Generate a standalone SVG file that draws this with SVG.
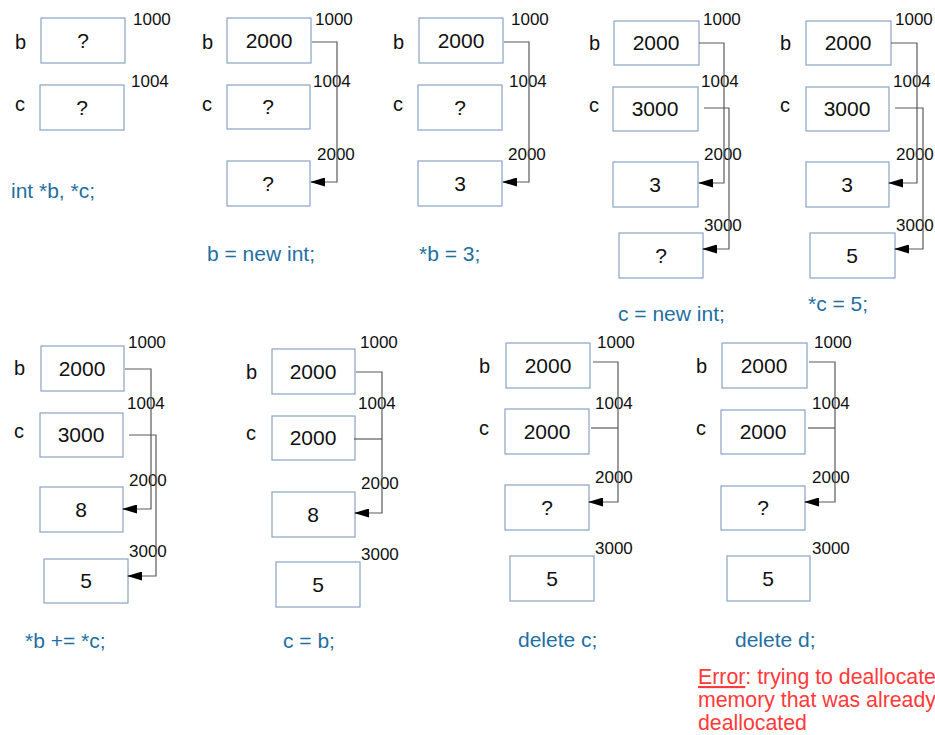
<svg xmlns="http://www.w3.org/2000/svg" width="935" height="735" viewBox="0 0 935 735">
<style>
.box{fill:#fff;stroke:#94aac8;stroke-width:1.3}
text{font-family:"Liberation Sans",Arial,sans-serif;fill:#111}
.val{font-size:21px;text-anchor:middle}
.addr{font-size:17px}
.var{font-size:20px}
.cap{font-size:21px;fill:#1f6fa3}
.err{font-size:21.3px;fill:#ff3a3a}
.conn{fill:none;stroke:#5a5a5a;stroke-width:1.2}
</style>
<defs>
<marker id="ah" markerUnits="userSpaceOnUse" markerWidth="15" markerHeight="9" refX="14" refY="4.5" orient="auto">
<path d="M0,0 L15,4.5 L0,9 z" fill="#000"/>
</marker>
</defs>
<rect width="935" height="735" fill="#fff"/>

<!-- Panel 1 -->
<g id="p1">
<text class="var" x="15" y="49">b</text><text class="var" x="15" y="111">c</text>
<g id="p1-b"><rect class="box" x="41" y="18" width="84" height="45"/><text class="val" x="83" y="48">?</text></g>
<g id="p1-c"><rect class="box" x="40" y="85" width="84" height="45"/><text class="val" x="82" y="115">?</text></g>
<text class="addr" x="133" y="25">1000</text><text class="addr" x="131" y="87">1004</text>
<text class="cap" x="11" y="198">int *b, *c;</text>
</g>

<!-- Panel 2 -->
<g id="p2">
<text class="var" x="202" y="49">b</text><text class="var" x="202" y="111">c</text>
<g id="p2-b"><rect class="box" x="227" y="18" width="84" height="45"/><text class="val" x="269" y="48">2000</text></g>
<g id="p2-c"><rect class="box" x="227" y="85" width="83" height="44"/><text class="val" x="268" y="114">?</text></g>
<g id="p2-m"><rect class="box" x="227" y="161" width="83" height="45"/><text class="val" x="268" y="191">?</text></g>
<text class="addr" x="315" y="25">1000</text><text class="addr" x="313" y="87">1004</text><text class="addr" x="317" y="160">2000</text>
<text class="cap" x="207" y="261">b = new int;</text>
</g>

<!-- Panel 3 -->
<g id="p3">
<text class="var" x="393" y="49">b</text><text class="var" x="393" y="111">c</text>
<g id="p3-b"><rect class="box" x="419" y="18" width="84" height="45"/><text class="val" x="461" y="48">2000</text></g>
<g id="p3-c"><rect class="box" x="418" y="85" width="84" height="45"/><text class="val" x="460" y="115">?</text></g>
<g id="p3-m"><rect class="box" x="418" y="161" width="84" height="45"/><text class="val" x="460" y="191">3</text></g>
<text class="addr" x="511" y="25">1000</text><text class="addr" x="509" y="87">1004</text><text class="addr" x="508" y="160">2000</text>
<text class="cap" x="419" y="261">*b = 3;</text>
</g>

<!-- Panel 4 -->
<g id="p4">
<text class="var" x="589" y="50">b</text><text class="var" x="589" y="112">c</text>
<g id="p4-b"><rect class="box" x="614" y="21" width="85" height="44"/><text class="val" x="656" y="50">2000</text></g>
<g id="p4-c"><rect class="box" x="613" y="87" width="85" height="44"/><text class="val" x="655" y="116">3000</text></g>
<g id="p4-m1"><rect class="box" x="613" y="162" width="85" height="45"/><text class="val" x="655" y="192">3</text></g>
<g id="p4-m2"><rect class="box" x="619" y="233" width="84" height="45"/><text class="val" x="661" y="263">?</text></g>
<text class="addr" x="703" y="25">1000</text><text class="addr" x="701" y="87">1004</text><text class="addr" x="704" y="160">2000</text><text class="addr" x="704" y="231">3000</text>
<text class="cap" x="618" y="321">c = new int;</text>
</g>

<!-- Panel 5 -->
<g id="p5">
<text class="var" x="780" y="50">b</text><text class="var" x="780" y="112">c</text>
<g id="p5-b"><rect class="box" x="806" y="21" width="85" height="44"/><text class="val" x="848" y="50">2000</text></g>
<g id="p5-c"><rect class="box" x="806" y="87" width="83" height="44"/><text class="val" x="847" y="116">3000</text></g>
<g id="p5-m1"><rect class="box" x="806" y="162" width="83" height="45"/><text class="val" x="847" y="192">3</text></g>
<g id="p5-m2"><rect class="box" x="810" y="233" width="85" height="45"/><text class="val" x="852" y="263">5</text></g>
<text class="addr" x="895" y="25">1000</text><text class="addr" x="893" y="87">1004</text><text class="addr" x="896" y="160">2000</text><text class="addr" x="896" y="231">3000</text>
<text class="cap" x="808" y="311">*c = 5;</text>
</g>

<!-- Panel 6 -->
<g id="p6">
<text class="var" x="14" y="375">b</text><text class="var" x="14" y="438">c</text>
<g id="p6-b"><rect class="box" x="41" y="346" width="83" height="45"/><text class="val" x="82" y="376">2000</text></g>
<g id="p6-c"><rect class="box" x="40" y="413" width="83" height="44"/><text class="val" x="81" y="442">3000</text></g>
<g id="p6-m1"><rect class="box" x="40" y="487" width="83" height="45"/><text class="val" x="81" y="517">8</text></g>
<g id="p6-m2"><rect class="box" x="44" y="559" width="84" height="44"/><text class="val" x="86" y="588">5</text></g>
<text class="addr" x="128" y="348">1000</text><text class="addr" x="127" y="409">1004</text><text class="addr" x="129" y="486">2000</text><text class="addr" x="129" y="557">3000</text>
<text class="cap" x="25" y="648">*b += *c;</text>
</g>

<!-- Panel 7 -->
<g id="p7">
<text class="var" x="246" y="379">b</text><text class="var" x="246" y="440">c</text>
<g id="p7-b"><rect class="box" x="272" y="349" width="83" height="45"/><text class="val" x="313" y="379">2000</text></g>
<g id="p7-c"><rect class="box" x="272" y="416" width="83" height="44"/><text class="val" x="313" y="445">2000</text></g>
<g id="p7-m1"><rect class="box" x="272" y="492" width="83" height="45"/><text class="val" x="313" y="522">8</text></g>
<g id="p7-m2"><rect class="box" x="276" y="562" width="84" height="45"/><text class="val" x="318" y="592">5</text></g>
<text class="addr" x="360" y="348">1000</text><text class="addr" x="358" y="409">1004</text><text class="addr" x="361" y="489">2000</text><text class="addr" x="361" y="560">3000</text>
<text class="cap" x="283" y="648">c = b;</text>
</g>

<!-- Panel 8 -->
<g id="p8">
<text class="var" x="479" y="373">b</text><text class="var" x="479" y="435">c</text>
<g id="p8-b"><rect class="box" x="506" y="343" width="84" height="45"/><text class="val" x="548" y="373">2000</text></g>
<g id="p8-c"><rect class="box" x="505" y="409" width="84" height="45"/><text class="val" x="547" y="439">2000</text></g>
<g id="p8-m1"><rect class="box" x="505" y="485" width="84" height="45"/><text class="val" x="547" y="515">?</text></g>
<g id="p8-m2"><rect class="box" x="510" y="556" width="84" height="45"/><text class="val" x="552" y="586">5</text></g>
<text class="addr" x="597" y="348">1000</text><text class="addr" x="595" y="409">1004</text><text class="addr" x="595" y="483">2000</text><text class="addr" x="595" y="554">3000</text>
<text class="cap" x="518" y="647">delete c;</text>
</g>

<!-- Panel 9 -->
<g id="p9">
<text class="var" x="696" y="373">b</text><text class="var" x="696" y="435">c</text>
<g id="p9-b"><rect class="box" x="722" y="343" width="85" height="45"/><text class="val" x="764" y="373">2000</text></g>
<g id="p9-c"><rect class="box" x="721" y="410" width="84" height="44"/><text class="val" x="763" y="439">2000</text></g>
<g id="p9-m1"><rect class="box" x="721" y="486" width="84" height="44"/><text class="val" x="763" y="515">?</text></g>
<g id="p9-m2"><rect class="box" x="727" y="556" width="83" height="45"/><text class="val" x="768" y="586">5</text></g>
<text class="addr" x="814" y="348">1000</text><text class="addr" x="812" y="409">1004</text><text class="addr" x="812" y="483">2000</text><text class="addr" x="812" y="554">3000</text>
<text class="cap" x="735" y="647">delete d;</text>
<text class="err" x="698" y="684"><tspan text-decoration="underline">Error</tspan>: trying to deallocate</text>
<text class="err" x="698" y="707">memory that was already</text>
<text class="err" x="698" y="730">deallocated</text>
</g>

<!-- Connectors -->
<g id="connectors">
<path class="conn" d="M312,42 H337 V182 H311" marker-end="url(#ah)"/>
<path class="conn" d="M504,42 H529 V182 H503" marker-end="url(#ah)"/>
<path class="conn" d="M699,43 H724 V183 H699" marker-end="url(#ah)"/>
<path class="conn" d="M704,108 H729 V249 H703" marker-end="url(#ah)"/>
<path class="conn" d="M891,43 H917 V183 H889" marker-end="url(#ah)"/>
<path class="conn" d="M895,108 H923 V249 H895" marker-end="url(#ah)"/>
<path class="conn" d="M125,369 H151 V509 H123" marker-end="url(#ah)"/>
<path class="conn" d="M129,435 H156 V576 H128" marker-end="url(#ah)"/>
<path class="conn" d="M356,372 H382 V513 H355" marker-end="url(#ah)"/>
<path class="conn" d="M354,439 H382"/>
<path class="conn" d="M593,362 H618 V502 H589" marker-end="url(#ah)"/>
<path class="conn" d="M591,428 H618"/>
<path class="conn" d="M809,362 H835 V502 H805" marker-end="url(#ah)"/>
<path class="conn" d="M808,428 H835"/>
</g>
</svg>
